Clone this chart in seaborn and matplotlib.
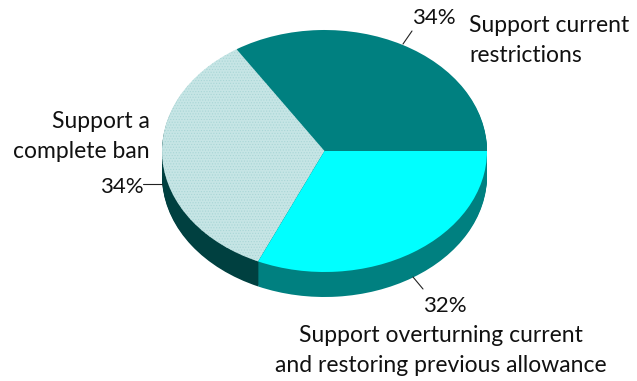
import numpy as np
import matplotlib
matplotlib.use("Agg")
import matplotlib.pyplot as plt
import seaborn as sns

categories = ["Support current restrictions", "Support a complete ban", "Support overturning current"]
values = [34.1, 34.2, 31.7]
pct_labels = ["34%", "34%", "32%"]
top_colors = ["#008080", "#c6e5e5", "#00ffff"]
side_colors = ["#008080", "#004040", "#008080"]

sns.set_theme(style="white")
plt.rcParams["font.family"] = ["Lato", "DejaVu Sans"]
plt.rcParams["hatch.linewidth"] = 0.5

W, H = 637, 381
CX, CY, RX, RY, DEPTH = 324.5, 151, 162.5, 121, 25

fig = plt.figure(figsize=(W / 100, H / 100), dpi=100)
ax = fig.add_axes([0, 0, 1, 1])

# side of the pie: stacked copies going down
for d in np.arange(DEPTH, 0, -1):
    ax.pie(values, colors=side_colors, startangle=0, radius=1,
           center=(0, -d / RY), wedgeprops={"linewidth": 0})

wedges, _ = ax.pie(values, colors=top_colors, startangle=0, radius=1,
                   center=(0, 0), wedgeprops={"linewidth": 0})
wedges[1].set_hatch("......")
wedges[1].set_edgecolor("#a9d6d6")

ax.set_aspect("auto")
ax.set_xlim(-CX / RX, (W - CX) / RX)
ax.set_ylim(-(H - CY) / RY, CY / RY)
ax.axis("off")


def px(x, y):
    return x / W, 1 - y / H


def label(x, y, s, ha="left", size=16.5):
    fig.text(*px(x, y), s, ha=ha, va="center", fontsize=size, color="#111111")


def leader(x0, y0, x1, y1):
    xs, ys = zip(px(x0, y0), px(x1, y1))
    fig.add_artist(plt.Line2D(xs, ys, color="#222222", lw=0.8))


label(412, 18, pct_labels[0], size=16)
label(469, 26, "Support current")
label(469, 56, "restrictions")
label(150, 122, "Support a", ha="right")
label(150, 152, "complete ban", ha="right")
label(100, 187, pct_labels[1], size=16)
label(423, 306, pct_labels[2], size=16)
label(441, 335, "Support overturning current", ha="center")
label(441, 365, "and restoring previous allowance", ha="center")

leader(403, 44, 412, 31)
leader(143, 184, 162, 184)
leader(413, 277, 423, 289)

fig.savefig("out.png", dpi=100)
